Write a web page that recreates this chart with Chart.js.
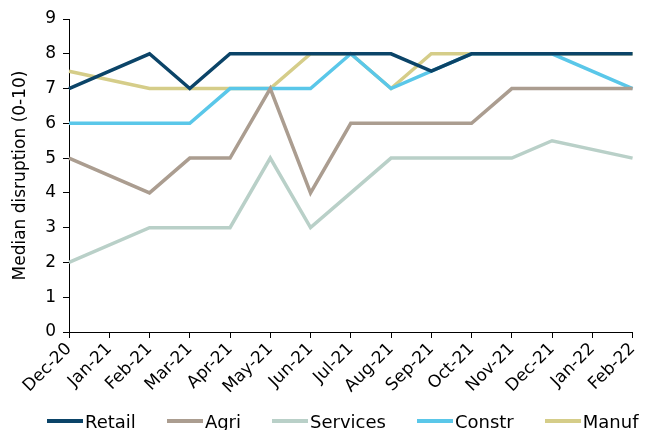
<!DOCTYPE html>
<html>
<head>
<meta charset="utf-8">
<script src="https://cdn.jsdelivr.net/npm/chart.js@4"></script>
<style>
html,body{margin:0;padding:0;background:#fff;overflow:hidden;}
#wrap{position:absolute;left:0;top:0;width:648px;height:430px;}
#legend{position:absolute;left:47px;top:409px;height:24px;display:flex;align-items:center;gap:31px;
  font-family:'DejaVu Sans';font-size:18px;color:#000;white-space:nowrap;}
#legend .item{display:flex;align-items:center;}
#legend .sw{display:inline-block;width:36px;height:4px;margin-right:2px;}
</style>
</head>
<body>
<div id="wrap"><canvas id="c"></canvas></div>
<div id="legend"></div>
<script>
const months = ['Dec-20','Jan-21','Feb-21','Mar-21','Apr-21','May-21','Jun-21','Jul-21','Aug-21','Sep-21','Oct-21','Nov-21','Dec-21','Jan-22','Feb-22'];
const retail   = [7,   null, 8, 7, 8, 8, 8, 8, 8, 7.5, 8, 8, 8,   null, 8];
const agri     = [5,   null, 4, 5, 5, 7, 4, 6, 6, 6,   6, 7, 7,   null, 7];
const services = [2,   null, 3, 3, 3, 5, 3, 4, 5, 5,   5, 5, 5.5, null, 5];
const constr   = [6,   null, 6, 6, 7, 7, 7, 8, 7, 7.5, 8, 8, 8,   null, 7];
const manuf    = [7.5, null, 7, 7, 7, 7, 8, 8, 7, 8,   8, 8, 8,   null, 8];
const yTicks = [0,1,2,3,4,5,6,7,8,9];

const FONT = 'DejaVu Sans';
function ds(label, data, color){
  return {label, data, borderColor: color, backgroundColor: color, borderWidth: 3.5,
    pointRadius: 0, tension: 0, spanGaps: true, borderJoinStyle: 'miter', fill: false};
}
const chart = new Chart(document.getElementById('c'), {
  type: 'line',
  data: {
    labels: months,
    datasets: [
      ds('Retail', retail, '#0b4468'),
      ds('Agri', agri, '#ab9d90'),
      ds('Services', services, '#b9d0c8'),
      ds('Constr', constr, '#5ac7e9'),
      ds('Manuf', manuf, '#d5cd89')
    ]
  },
  options: {
    responsive: true, maintainAspectRatio: false, animation: false,
    layout: {padding: {top: 19, right: 9, left: 10, bottom: 0}},
    plugins: {
      legend: {display: false},
      tooltip: {enabled: false}
    },
    scales: {
      x: {
        offset: false,
        grid: {drawOnChartArea: false, drawTicks: true, tickLength: 6, color: '#000'},
        border: {display: true, color: '#000', width: 1},
        ticks: {autoSkip: false, maxRotation: 45, minRotation: 45, padding: 1,
          font: {family: FONT, size: 17}, color: '#000'},
        afterFit: s => { s.height = 98; }
      },
      y: {
        min: 0, max: 9,
        afterBuildTicks: s => { s.ticks = yTicks.map(v => ({value: v})); },
        grid: {drawOnChartArea: false, drawTicks: true, tickLength: 6, color: '#000'},
        border: {display: true, color: '#000', width: 1},
        ticks: {font: {family: FONT, size: 17}, color: '#000', padding: 7},
        title: {display: true, text: 'Median disruption (0-10)', font: {family: FONT, size: 17}, color: '#000', padding: 0},
        afterFit: s => { s.width = 59; }
      }
    }
  }
});
const leg = document.getElementById('legend');
chart.data.datasets.forEach(d => {
  const it = document.createElement('span'); it.className = 'item';
  const sw = document.createElement('span'); sw.className = 'sw'; sw.style.background = d.borderColor;
  const tx = document.createElement('span'); tx.textContent = d.label;
  it.appendChild(sw); it.appendChild(tx); leg.appendChild(it);
});
</script>
</body>
</html>
